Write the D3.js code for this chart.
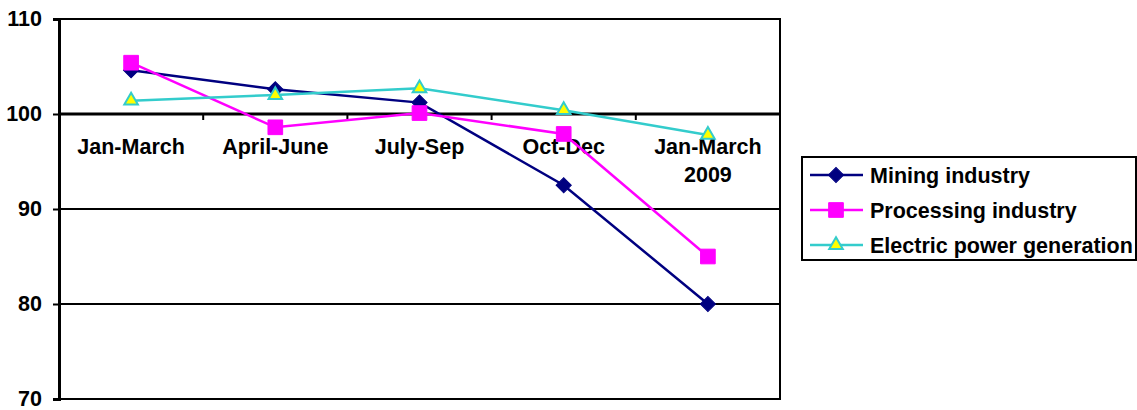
<!DOCTYPE html>
<html>
<head>
<meta charset="utf-8">
<script src="https://cdn.jsdelivr.net/npm/d3@7"></script>
<style>
  body { margin: 0; background: #fff; }
  text { font-family: "Liberation Sans", Arial, sans-serif; font-weight: bold; }
</style>
</head>
<body>
<script>
// Chart data
const categories = ["Jan-March", "April-June", "July-Sep", "Oct-Dec", "Jan-March\n2009"];
const mining = [104.6, 102.6, 101.2, 92.5, 80.0];
const processing = [105.4, 98.6, 100.1, 97.9, 85.0];
const electric = [101.4, 102.0, 102.7, 100.4, 97.8];
const yTicks = [70, 80, 90, 100, 110];

const seriesNames = ["Mining industry", "Processing industry", "Electric power generation"];
const seriesValues = [mining, processing, electric];
const seriesStyle = [
  {stroke: "#000080", fill: "#000080", symbol: d3.symbolSquare, size: 115, rot: 45},
  {stroke: "#FF00FF", fill: "#FF00FF", symbol: d3.symbolSquare, size: 215, rot: 0},
  {stroke: "#33CCCC", fill: "#FFFF00", symbol: d3.symbolTriangle, size: 80, rot: 0}
];

const W = 1137, H = 410;
const FS = 21.5; // font size
const plot = {left: 59, right: 780, top: 19, bottom: 399};

const svg = d3.select("body").append("svg")
  .attr("width", W).attr("height", H);

const x = d3.scaleBand()
  .domain(categories)
  .range([plot.left, plot.right]);

const y = d3.scaleLinear()
  .domain([70, 110])
  .range([plot.bottom, plot.top]);

// gridlines
svg.append("g").selectAll("line")
  .data(yTicks)
  .join("line")
    .attr("x1", plot.left).attr("x2", plot.right)
    .attr("y1", d => y(d)).attr("y2", d => y(d))
    .attr("stroke", "#000").attr("stroke-width", 2);

// plot border
svg.append("rect")
  .attr("x", plot.left).attr("y", plot.top)
  .attr("width", plot.right - plot.left).attr("height", plot.bottom - plot.top)
  .attr("fill", "none").attr("stroke", "#000").attr("stroke-width", 2);

// y axis
const yAxis = svg.append("g")
  .attr("transform", `translate(${plot.left},0)`)
  .call(d3.axisLeft(y).tickValues(yTicks).tickSize(6).tickPadding(11));
yAxis.select(".domain").attr("stroke-width", 3);
yAxis.selectAll(".tick line").attr("stroke-width", 2);
yAxis.selectAll("text").attr("font-size", FS).attr("fill", "#000")
  .style("font-family", "Liberation Sans, Arial, sans-serif").style("font-weight", "bold");

// category axis crossing at 100
const xAxis = svg.append("g")
  .attr("transform", `translate(0,${y(100)})`);
xAxis.append("line")
  .attr("x1", plot.left).attr("x2", plot.right)
  .attr("stroke", "#000").attr("stroke-width", 3);
xAxis.selectAll(".sep")
  .data(categories.slice(1))
  .join("line")
    .attr("class", "sep")
    .attr("x1", d => x(d)).attr("x2", d => x(d))
    .attr("y1", 0).attr("y2", 6)
    .attr("stroke", "#000").attr("stroke-width", 2);
xAxis.selectAll(".lab")
  .data(categories)
  .join("text")
    .attr("class", "lab")
    .attr("text-anchor", "middle")
    .attr("font-size", FS)
    .attr("x", d => x(d) + x.bandwidth() / 2)
    .attr("y", 40)
    .each(function(d) {
      const parts = d.split("\n");
      d3.select(this).selectAll("tspan")
        .data(parts)
        .join("tspan")
          .attr("x", x(d) + x.bandwidth() / 2)
          .attr("dy", (p, i) => i === 0 ? 0 : 28)
          .text(p => p);
    });

// lines and markers
const line = d3.line()
  .x((d, i) => x(categories[i]) + x.bandwidth() / 2)
  .y(d => y(d));

seriesValues.forEach((vals, s) => {
  const st = seriesStyle[s];
  svg.append("path")
    .datum(vals)
    .attr("d", line)
    .attr("fill", "none")
    .attr("stroke", st.stroke)
    .attr("stroke-width", 2.5);
  svg.append("g").selectAll("path")
    .data(vals)
    .join("path")
      .attr("transform", (d, i) => `translate(${x(categories[i]) + x.bandwidth() / 2},${y(d)}) rotate(${st.rot})`)
      .attr("d", d3.symbol().type(st.symbol).size(st.size))
      .attr("fill", st.fill)
      .attr("stroke", st.stroke)
      .attr("stroke-width", s === 2 ? 2 : 1);
});

// legend
const legend = svg.append("g");
legend.append("rect")
  .attr("x", 802).attr("y", 157)
  .attr("width", 334).attr("height", 103)
  .attr("fill", "#fff").attr("stroke", "#000").attr("stroke-width", 2);

seriesNames.forEach((name, s) => {
  const st = seriesStyle[s];
  const ly = 175 + s * 35;
  legend.append("line")
    .attr("x1", 810).attr("x2", 863)
    .attr("y1", ly).attr("y2", ly)
    .attr("stroke", st.stroke).attr("stroke-width", 2.5);
  legend.append("path")
    .attr("transform", `translate(836,${ly}) rotate(${st.rot})`)
    .attr("d", d3.symbol().type(st.symbol).size(st.size))
    .attr("fill", st.fill)
    .attr("stroke", st.stroke)
    .attr("stroke-width", s === 2 ? 2 : 1);
  legend.append("text")
    .attr("x", 870).attr("y", ly + 7.5)
    .attr("font-size", FS)
    .text(name);
});
</script>
</body>
</html>
